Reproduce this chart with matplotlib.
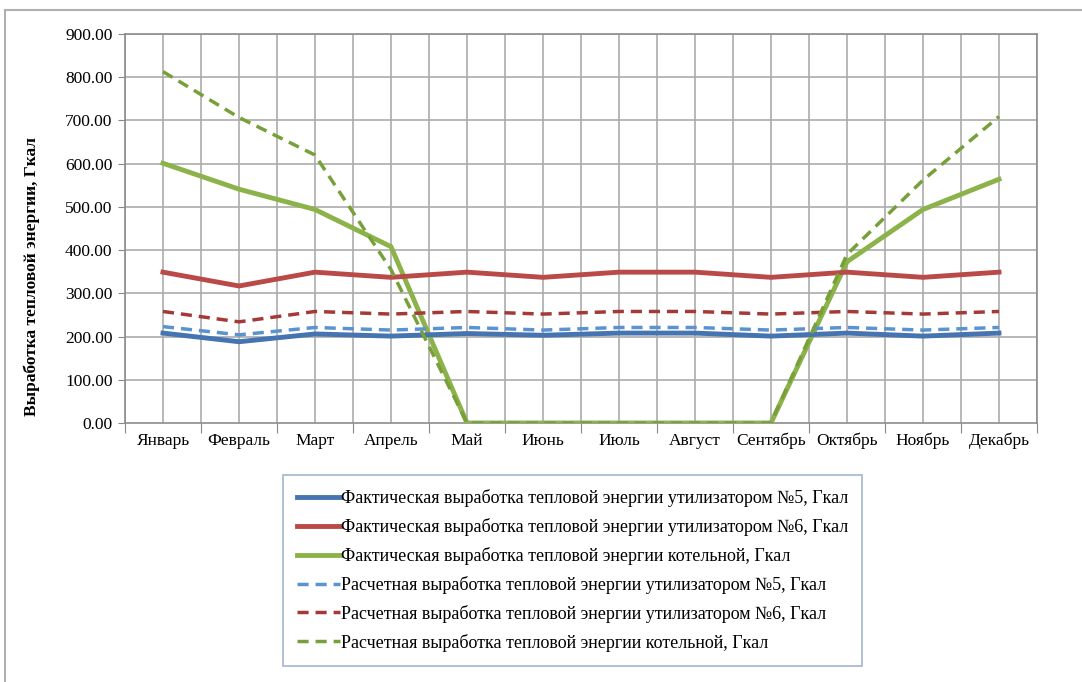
import numpy as np
import matplotlib.pyplot as plt
from matplotlib.lines import Line2D

plt.rcParams['font.family'] = ['Liberation Serif', 'DejaVu Serif']

months = ['Январь', 'Февраль', 'Март', 'Апрель', 'Май', 'Июнь',
          'Июль', 'Август', 'Сентябрь', 'Октябрь', 'Ноябрь', 'Декабрь']

fact_u5 = [208, 188, 206, 201, 207, 203, 208, 208, 201, 208, 201, 208]
fact_u6 = [349, 317, 349, 337, 349, 337, 349, 349, 337, 349, 337, 349]
fact_boiler = [601, 541, 494, 408, 0, 0, 0, 0, 0, 373, 494, 564]
calc_u5 = [223, 204, 221, 215, 221, 215, 221, 221, 215, 221, 215, 221]
calc_u6 = [258, 234, 258, 252, 258, 252, 258, 258, 252, 258, 252, 258]
calc_boiler = [813, 707, 620, 355, 0, 0, 0, 0, 0, 390, 562, 709]

labels = [
    'Фактическая выработка тепловой энергии утилизатором №5, Гкал',
    'Фактическая выработка тепловой энергии утилизатором №6, Гкал',
    'Фактическая выработка тепловой энергии котельной, Гкал',
    'Расчетная выработка тепловой энергии утилизатором №5, Гкал',
    'Расчетная выработка тепловой энергии утилизатором №6, Гкал',
    'Расчетная выработка тепловой энергии котельной, Гкал',
]

fs = 12.5
fig = plt.figure(figsize=(10.82, 6.82), dpi=100)
ax = fig.add_axes([0.1155, 0.3798, 0.8429, 0.5703])

x = np.arange(len(months))
grid_c = '#ababab'

# vertical grid every half category, horizontal every 100
for gx in np.arange(-0.5, 12.0, 0.5):
    ax.axvline(gx, color=grid_c, lw=1.2, zorder=0)
for gy in range(100, 1000, 100):
    ax.axhline(gy, color=grid_c, lw=1.2, zorder=0)

dash = (3.2, 2.0)
solid_w = 3.5
dash_w = 2.5
c_u5, c_u6, c_b = '#4574b0', '#b94a48', '#8cb34a'
c_u5d, c_u6d, c_bd = '#5a93d0', '#a33a38', '#77a03a'

ax.plot(x, fact_boiler, color=c_b, lw=solid_w, zorder=3)
ax.plot(x, calc_boiler, color=c_bd, lw=dash_w, dashes=dash, zorder=4)
ax.plot(x, fact_u6, color=c_u6, lw=solid_w, zorder=3)
ax.plot(x, calc_u6, color=c_u6d, lw=dash_w, dashes=dash, zorder=3)
ax.plot(x, calc_u5, color=c_u5d, lw=dash_w, dashes=dash, zorder=3)
ax.plot(x, fact_u5, color=c_u5, lw=solid_w, zorder=3)

ax.set_xlim(-0.5, 11.5)
ax.set_ylim(0, 900)
ax.set_yticks(range(0, 1000, 100))
ax.set_yticklabels(['%.2f' % v for v in range(0, 1000, 100)], fontsize=fs)
ax.set_xticks(np.arange(-0.5, 12.0, 1.0))
ax.set_xticklabels([])
ax.set_xticks(x, minor=True)
ax.set_xticklabels(months, minor=True, fontsize=fs)
ax.tick_params(axis='x', which='major', length=7, color='#888888', direction='out')
ax.tick_params(axis='x', which='minor', length=0, pad=7)
ax.tick_params(axis='y', length=5, color='#888888', direction='out', pad=4)
for s in ax.spines.values():
    s.set_color('#8c8c8c')
    s.set_linewidth(1.2)

fig.text(32 / 1082, 1 - 277 / 682, 'Выработка тепловой энергии, Гкал',
         rotation=90, ha='center', va='center', fontsize=fs, fontweight='bold')

handles = [
    Line2D([], [], color=c_u5, lw=solid_w),
    Line2D([], [], color=c_u6, lw=solid_w),
    Line2D([], [], color=c_b, lw=solid_w),
    Line2D([], [], color=c_u5d, lw=dash_w, dashes=dash),
    Line2D([], [], color=c_u6d, lw=dash_w, dashes=dash),
    Line2D([], [], color=c_bd, lw=dash_w, dashes=dash),
]
leg = fig.legend(handles, labels, loc='upper left',
                 bbox_to_anchor=(283 / 1082, 1 - 475 / 682),
                 fontsize=13, frameon=True, fancybox=False,
                 handlelength=2.35, handletextpad=0.05, labelspacing=0.6,
                 borderpad=0.8, borderaxespad=0)
leg.get_frame().set_edgecolor('#8aa3c2')
leg.get_frame().set_linewidth(1.2)

# outer chart frame (left and top edges visible)
fig.add_artist(Line2D([5 / 1082, 5 / 1082], [0, 1 - 10 / 682],
                      color='#b0b0b0', lw=1.5))
fig.add_artist(Line2D([5 / 1082, 1], [1 - 10 / 682, 1 - 10 / 682],
                      color='#b0b0b0', lw=1.5))

fig.savefig('out.png', dpi=100)
